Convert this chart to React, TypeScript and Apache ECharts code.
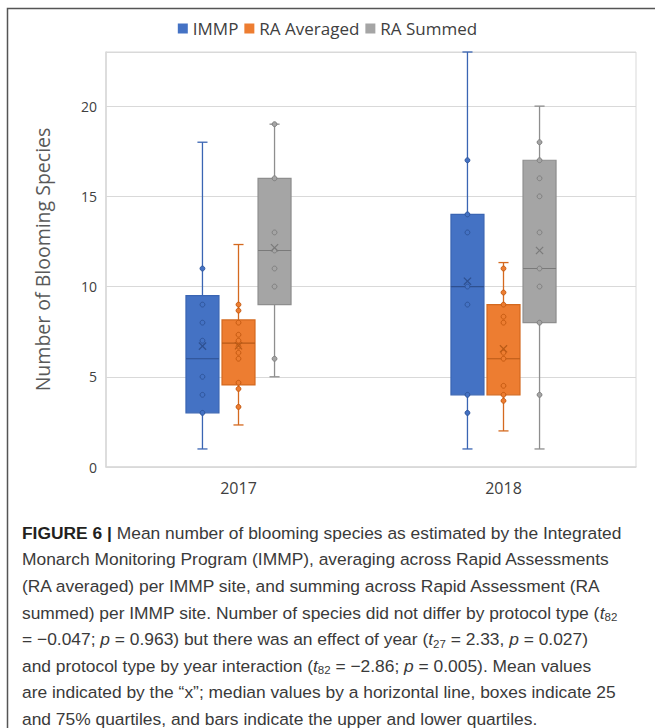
import React, { useEffect, useRef } from 'react';
import * as echarts from 'echarts';

const categories = ['2017', '2018'];
const seriesNames = ['IMMP', 'RA Averaged', 'RA Summed'];
// [min, Q1, median, Q3, max] per year
const immpBox = [[1, 3, 6, 9.5, 18], [1, 4, 10, 14, 23]];
const immpMean = [6.7, 10.3];
const immpPoints = [[3, 4, 5, 7, 8, 9, 11], [3, 4, 9, 10, 13, 14, 17]];
const raAvgBox = [[2.33, 4.55, 6.87, 8.15, 12.33], [2, 4, 6, 9, 11.33]];
const raAvgMean = [6.72, 6.55];
const raAvgPoints = [
  [3.33, 4.33, 4.67, 6, 6.33, 6.67, 7, 7.33, 8, 8.67, 9],
  [3.67, 4, 4.5, 6, 6.33, 8, 8.33, 9, 9.67, 11],
];
const raSumBox = [[5, 9, 12, 16, 19], [1, 8, 11, 17, 20]];
const raSumMean = [12.15, 12];
const raSumPoints = [[6, 10, 11, 12, 13, 16, 19], [4, 8, 10, 11, 13, 15, 16, 17, 18]];

const boxes = [immpBox, raAvgBox, raSumBox];
const means = [immpMean, raAvgMean, raSumMean];
const points = [immpPoints, raAvgPoints, raSumPoints];

const palette = [
  { fill: '#4472C4', stroke: '#3A65B3', median: '#2E5090', pt: '#2F559A' },
  { fill: '#ED7D31', stroke: '#D4691F', median: '#B85A17', pt: '#C55A11' },
  { fill: '#A5A5A5', stroke: '#8E8E8E', median: '#7A7A7A', pt: '#7F7F7F' },
];

const captionLines = [
  '{b|FIGURE 6 |} Mean number of blooming species as estimated by the Integrated',
  'Monarch Monitoring Program (IMMP), averaging across Rapid Assessments',
  '(RA averaged) per IMMP site, and summing across Rapid Assessment (RA',
  'summed) per IMMP site. Number of species did not differ by protocol type ({i|t}{s|82}',
  '= −0.047; {i|p} = 0.963) but there was an effect of year ({i|t}{s|27} = 2.33, {i|p} = 0.027)',
  'and protocol type by year interaction ({i|t}{s|82} = −2.86; {i|p} = 0.005). Mean values',
  'are indicated by the “x”; median values by a horizontal line, boxes indicate 25',
  'and 75% quartiles, and bars indicate the upper and lower quartiles.',
];

function makeRenderItem(sIdx: number) {
  const col = palette[sIdx];
  return (params: any, api: any) => {
    const cat = api.value(0);
    const mn = api.value(1), q1 = api.value(2), md = api.value(3), q3 = api.value(4), mx = api.value(5), mean = api.value(6);
    const band = api.size([1, 0])[0];
    const offset = (sIdx - 1) * band * 0.136;
    const bw = band * 0.1245;
    const cap = band * 0.038;
    const cx = api.coord([cat, 0])[0] + offset;
    const y = (v: number) => api.coord([cat, v])[1];
    const children: any[] = [];
    const ws = { stroke: col.stroke, lineWidth: 1.3 };
    children.push({ type: 'line', shape: { x1: cx, y1: y(mx), x2: cx, y2: y(q3) }, style: ws });
    children.push({ type: 'line', shape: { x1: cx, y1: y(q1), x2: cx, y2: y(mn) }, style: ws });
    children.push({ type: 'line', shape: { x1: cx - cap / 2, y1: y(mx), x2: cx + cap / 2, y2: y(mx) }, style: ws });
    children.push({ type: 'line', shape: { x1: cx - cap / 2, y1: y(mn), x2: cx + cap / 2, y2: y(mn) }, style: ws });
    children.push({
      type: 'rect',
      shape: { x: cx - bw / 2, y: y(q3), width: bw, height: y(q1) - y(q3) },
      style: { fill: col.fill, stroke: col.stroke, lineWidth: 1.2 },
    });
    children.push({ type: 'line', shape: { x1: cx - bw / 2, y1: y(md), x2: cx + bw / 2, y2: y(md) }, style: { stroke: col.median, lineWidth: 1.2 } });
    const pts = points[sIdx][params.dataIndex];
    pts.forEach((v: number) => {
      children.push({ type: 'circle', shape: { cx, cy: y(v), r: 2.4 }, style: { fill: col.fill, stroke: col.pt, lineWidth: 1 } });
    });
    const xm = y(mean);
    const h = 3.6;
    children.push({ type: 'line', shape: { x1: cx - h, y1: xm - h, x2: cx + h, y2: xm + h }, style: { stroke: col.median, lineWidth: 1.2 } });
    children.push({ type: 'line', shape: { x1: cx - h, y1: xm + h, x2: cx + h, y2: xm - h }, style: { stroke: col.median, lineWidth: 1.2 } });
    return { type: 'group', children };
  };
}

export default function App() {
  const ref = useRef<HTMLDivElement>(null);
  useEffect(() => {
    if (!ref.current) return;
    const chart = echarts.init(ref.current, undefined, { renderer: 'svg' });
    const series = seriesNames.map((name, sIdx) => ({
      name,
      type: 'custom',
      renderItem: makeRenderItem(sIdx),
      itemStyle: { color: palette[sIdx].fill },
      encode: { x: 0, y: [1, 2, 3, 4, 5] },
      data: categories.map((_, ci) => [ci, ...boxes[sIdx][ci], means[sIdx][ci]]),
    }));
    const capFont = 17.4;
    const ff = 'Liberation Sans, Arial, sans-serif';
    const graphic: any[] = [
      {
        type: 'rect',
        silent: true,
        z: -10,
        shape: { x: 7.5, y: 8.5, width: 720, height: 800 },
        style: { fill: 'none', stroke: '#555555', lineWidth: 1.5 },
      },
    ];
    captionLines.forEach((t, i) => {
      graphic.push({
        type: 'text',
        x: 22,
        y: 532.7 + i * 26.6,
        style: {
          text: t,
          fill: '#3a3a3a',
          fontSize: capFont,
          fontFamily: ff,
          verticalAlign: 'middle',
          rich: {
            b: { fontWeight: 'bold', fill: '#231f20', fontSize: capFont, fontFamily: ff, lineHeight: 21 },
            i: { fontStyle: 'italic', fontSize: capFont, fontFamily: ff, fill: '#3a3a3a', lineHeight: 21 },
            s: { fontSize: 11.5, fontFamily: ff, fill: '#3a3a3a', verticalAlign: 'bottom', lineHeight: 14 },
          },
          lineHeight: 21,
        },
      });
    });
    chart.setOption({
      animation: false,
      backgroundColor: '#ffffff',
      legend: {
        top: 15,
        left: 'center',
        icon: 'rect',
        itemWidth: 10,
        itemHeight: 10,
        itemGap: 6,
        textStyle: { fontSize: 17, color: '#404040', fontFamily: 'Open Sans' },
        data: seriesNames,
      },
      grid: { left: 106, right: 19, top: 52, bottom: 261, show: true, borderColor: '#d9d9d9', borderWidth: 1 },
      xAxis: {
        type: 'category',
        data: categories,
        axisLine: { show: true, lineStyle: { color: '#d9d9d9', width: 1.5 } },
        axisTick: { show: false },
        axisLabel: { fontSize: 16, color: '#404040', fontFamily: 'Open Sans', margin: 13 },
        splitLine: { show: false },
      },
      yAxis: {
        type: 'value',
        min: 0,
        max: 23,
        interval: 5,
        name: 'Number of Blooming Species',
        nameLocation: 'middle',
        nameGap: 54,
        nameTextStyle: { fontSize: 19.5, color: '#595959', fontFamily: 'Open Sans' },
        axisLine: { show: true, lineStyle: { color: '#d9d9d9', width: 1.5 } },
        axisTick: { show: false },
        axisLabel: { fontSize: 14, color: '#404040', fontFamily: 'Open Sans', margin: 9, showMaxLabel: false },
        splitLine: { show: true, lineStyle: { color: '#d9d9d9', width: 1 } },
      },
      series,
      graphic,
    });
    return () => chart.dispose();
  }, []);
  return <div ref={ref} style={{ position: 'fixed', left: 0, top: 0, width: 655, height: 728 }} />;
}
